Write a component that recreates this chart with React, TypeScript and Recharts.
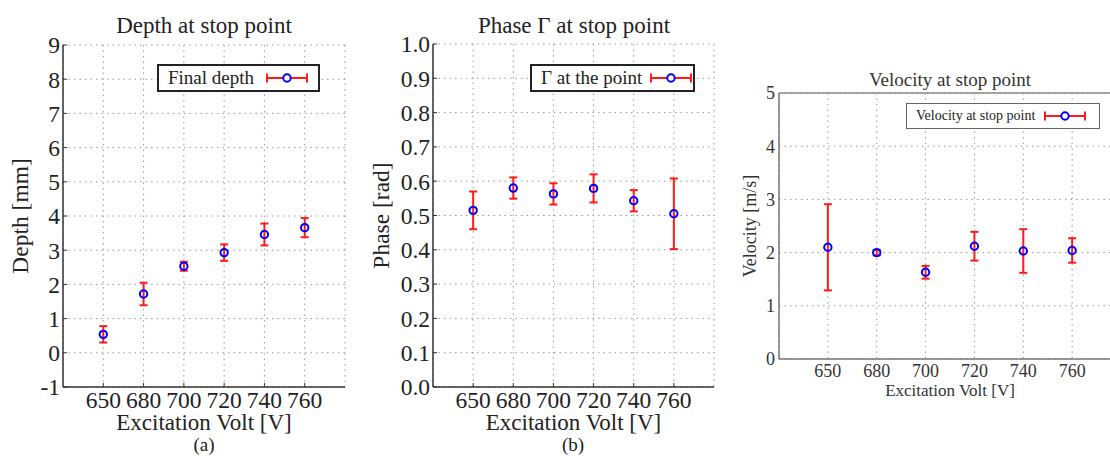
import React from "react";
import {
  ScatterChart,
  Scatter,
  ErrorBar,
  XAxis,
  YAxis,
  CartesianGrid,
  Legend,
  Label,
  ReferenceLine,
} from "recharts";

// ---- data -------------------------------------------------------------------

const volts = [650, 680, 700, 720, 740, 760];
const xTicks = [1, 2, 3, 4, 5, 6];

const depth = [0.54, 1.72, 2.53, 2.93, 3.46, 3.66];
const depthErr = [0.24, 0.33, 0.13, 0.24, 0.32, 0.28];
const depthTicks = [-1, 0, 1, 2, 3, 4, 5, 6, 7, 8, 9];

const phase = [0.515, 0.58, 0.563, 0.579, 0.543, 0.505];
const phaseErr = [0.055, 0.031, 0.031, 0.041, 0.031, 0.103];
const phaseTicks = [0, 0.1, 0.2, 0.3, 0.4, 0.5, 0.6, 0.7, 0.8, 0.9, 1.0];

const velocity = [2.1, 2.0, 1.63, 2.12, 2.03, 2.04];
const velocityErr = [0.81, 0.05, 0.12, 0.27, 0.41, 0.23];
const velocityTicks = [0, 1, 2, 3, 4, 5];

// ---- shared bits ------------------------------------------------------------

const serif = '"Liberation Serif", "Times New Roman", serif';
const RED = "#ff1a1a";
const BLUE = "#0000ff";

function rows(vals: number[], errs: number[]) {
  return vals.map((v, i) => ({ x: xTicks[i], y: v, err: errs[i] }));
}

const fmtVolt = (t: number) => String(volts[t - 1] ?? "");

function Marker(props: any) {
  const { cx, cy } = props;
  if (cx == null || cy == null) return null;
  return <circle cx={cx} cy={cy} r={3.7} fill="none" stroke={BLUE} strokeWidth={2} />;
}

function LegendIcon() {
  return (
    <svg width={42} height={12} style={{ display: "block" }}>
      <line x1={1} y1={6} x2={41} y2={6} stroke={RED} strokeWidth={2} />
      <line x1={1} y1={1.5} x2={1} y2={10.5} stroke={RED} strokeWidth={2} />
      <line x1={41} y1={1.5} x2={41} y2={10.5} stroke={RED} strokeWidth={2} />
      <circle cx={21} cy={6} r={3.7} fill="#fff" stroke={BLUE} strokeWidth={2} />
    </svg>
  );
}

function legendBox(text: string, o: { w: number; h: number; fs: number; border: string; gap: number }) {
  return () => (
    <div
      style={{
        width: o.w,
        height: o.h,
        boxSizing: "border-box",
        border: o.border,
        background: "#fff",
        display: "flex",
        alignItems: "center",
        paddingLeft: 9,
        fontFamily: serif,
        fontSize: o.fs,
        color: "#222",
        whiteSpace: "nowrap",
      }}
    >
      <span style={{ marginRight: o.gap }}>{text}</span>
      <LegendIcon />
    </div>
  );
}

type PanelProps = {
  data: { x: number; y: number; err: number }[];
  left: number;
  width: number;
  margin: { top: number; right: number; bottom: number; left: number };
  yWidth: number;
  xHeight: number;
  yDomain: [number, number];
  yTicks: number[];
  yFmt?: (v: number) => string;
  yLabel: string;
  yLabelOffset: number;
  xLabelOffset: number;
  tickFont: number;
  xLabelFont: number;
  yLabelFont: number;
  axisColor: string;
  textColor: string;
  inward: boolean;
  legend: () => React.ReactElement;
  legendPos: { left: number; top: number };
  boxTop?: boolean;
};

function Panel(p: PanelProps) {
  const tick = { fill: p.textColor, fontSize: p.tickFont, fontFamily: serif };
  const axisLine = { stroke: p.axisColor, strokeWidth: 1.5 };
  const tickLine = p.inward ? { stroke: p.axisColor, strokeWidth: 1 } : false;
  return (
    <div style={{ position: "absolute", left: p.left, top: 0, fontFamily: serif }}>
      <ScatterChart width={p.width} height={456} margin={p.margin}>
        <CartesianGrid stroke="#9a9a9a" strokeDasharray="1.5 4" />
        <XAxis
          type="number"
          dataKey="x"
          domain={[0, 7]}
          ticks={xTicks}
          interval={0}
          tickFormatter={fmtVolt}
          tick={tick}
          axisLine={axisLine}
          tickLine={tickLine}
          tickSize={p.inward ? -4 : 0}
          tickMargin={p.inward ? 8 : 5}
          height={p.xHeight}
        >
          <Label
            value="Excitation Volt [V]"
            position="insideTop"
            offset={p.xLabelOffset}
            style={{ fill: p.textColor, fontSize: p.xLabelFont, fontFamily: serif }}
          />
        </XAxis>
        <YAxis
          type="number"
          dataKey="y"
          domain={p.yDomain}
          ticks={p.yTicks}
          interval={0}
          tickFormatter={p.yFmt}
          tick={tick}
          axisLine={axisLine}
          tickLine={tickLine}
          tickSize={p.inward ? -4 : 0}
          tickMargin={p.inward ? 7 : 4}
          width={p.yWidth}
        >
          <Label
            value={p.yLabel}
            angle={-90}
            position="insideLeft"
            offset={p.yLabelOffset}
            style={{ fill: p.textColor, fontSize: p.yLabelFont, fontFamily: serif, textAnchor: "middle" }}
          />
        </YAxis>
        {p.boxTop && <ReferenceLine y={p.yDomain[1]} stroke="#888" strokeWidth={1.5} />}
        <Legend
          content={p.legend}
          align="center"
          verticalAlign="middle"
          wrapperStyle={{ left: p.legendPos.left, top: p.legendPos.top, width: "auto" }}
        />
        <Scatter data={p.data} shape={<Marker />} isAnimationActive={false} legendType="none">
          <ErrorBar dataKey="err" direction="y" width={4} stroke={RED} strokeWidth={2} isAnimationActive={false} />
        </Scatter>
      </ScatterChart>
    </div>
  );
}

export default function App() {
  return (
    <div
      style={{
        position: "absolute",
        left: 0,
        top: 0,
        width: 1110,
        height: 456,
        overflow: "hidden",
        background: "#fff",
      }}
    >
      <Panel
        data={rows(depth, depthErr)}
        left={0}
        width={360}
        margin={{ top: 45, right: 15, bottom: 0, left: 0 }}
        yWidth={63}
        xHeight={69}
        yDomain={[-1, 9]}
        yTicks={depthTicks}
        yLabel="Depth [mm]"
        yLabelOffset={20}
        xLabelOffset={27}
        tickFont={23.5}
        xLabelFont={23}
        yLabelFont={23.5}
        axisColor="#333"
        textColor="#222"
        inward
        legend={legendBox("Final depth", { w: 163, h: 28, fs: 19, border: "2px solid #222", gap: 12 })}
        legendPos={{ left: 157, top: 64 }}
      />
      <Panel
        data={rows(phase, phaseErr)}
        left={360}
        width={370}
        margin={{ top: 44, right: 16, bottom: 0, left: 0 }}
        yWidth={73}
        xHeight={69}
        yDomain={[0, 1]}
        yTicks={phaseTicks}
        yFmt={(v: number) => v.toFixed(1)}
        yLabel="Phase [rad]"
        yLabelOffset={21}
        xLabelOffset={27}
        tickFont={23.5}
        xLabelFont={23}
        yLabelFont={23.5}
        axisColor="#333"
        textColor="#222"
        inward
        legend={legendBox("\u0393 at the point", { w: 165, h: 28, fs: 19, border: "2px solid #222", gap: 8 })}
        legendPos={{ left: 170, top: 64 }}
      />
      <Panel
        data={rows(velocity, velocityErr)}
        left={730}
        width={400}
        margin={{ top: 93, right: 9, bottom: 0, left: 0 }}
        yWidth={49}
        xHeight={97}
        yDomain={[0, 5]}
        yTicks={velocityTicks}
        yLabel="Velocity [m/s]"
        yLabelOffset={20}
        xLabelOffset={25}
        tickFont={18}
        xLabelFont={17}
        yLabelFont={18}
        axisColor="#777"
        textColor="#333"
        inward={false}
        boxTop
        legend={legendBox("Velocity at stop point", { w: 194, h: 26, fs: 14, border: "1.5px solid #666", gap: 9 })}
        legendPos={{ left: 176, top: 103 }}
      />
      <svg
        width={1110}
        height={456}
        style={{ position: "absolute", left: 0, top: 0, pointerEvents: "none", fontFamily: serif }}
      >
        <g textAnchor="middle" fill="#222">
          <text x={204} y={33} fontSize={23}>Depth at stop point</text>
          <text x={574} y={33} fontSize={23}>Phase {"\u0393"} at stop point</text>
          <text x={950} y={86} fontSize={19} fill="#333">Velocity at stop point</text>
          <text x={204} y={451} fontSize={19}>(a)</text>
          <text x={573} y={451} fontSize={19}>(b)</text>
        </g>
      </svg>
    </div>
  );
}
